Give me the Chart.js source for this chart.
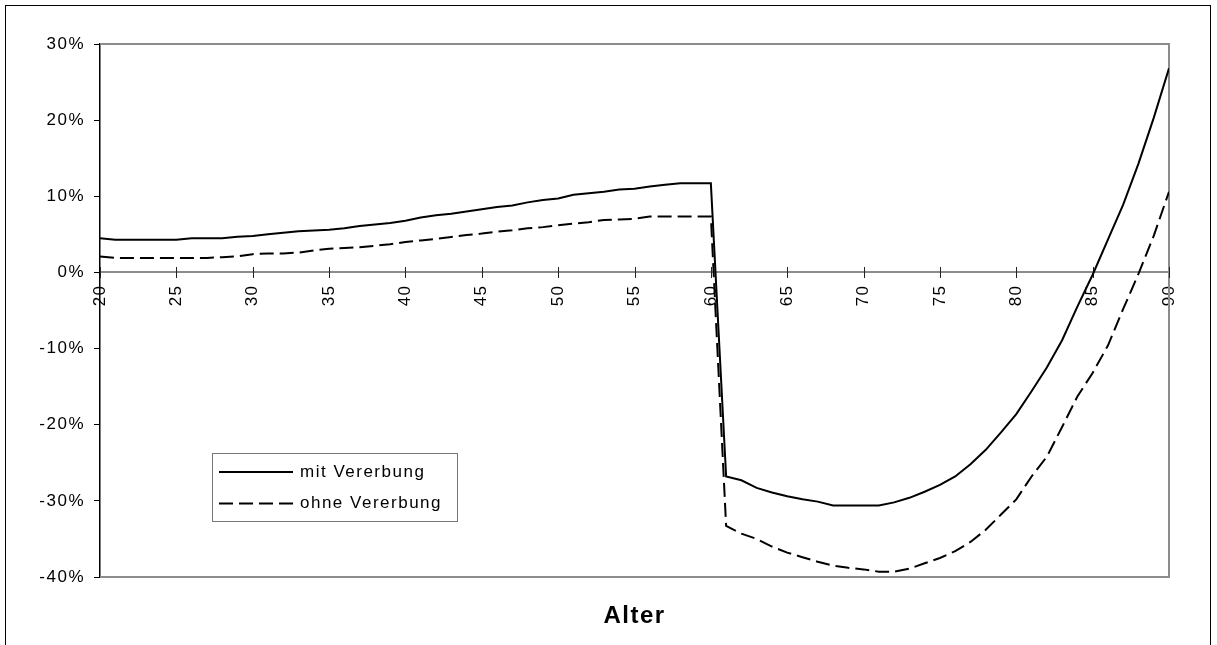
<!DOCTYPE html>
<html>
<head>
<meta charset="utf-8">
<script src="https://cdn.jsdelivr.net/npm/chart.js@4/dist/chart.umd.min.js"></script>
<style>
  html, body { margin: 0; padding: 0; background: #fff; }
  #wrap { position: relative; width: 1217px; height: 645px; }
</style>
</head>
<body>
<div id="wrap"><canvas id="c" width="1217" height="645"></canvas></div>
<script>
// ---- data ----
const ages = [20,21,22,23,24,25,26,27,28,29,30,31,32,33,34,35,36,37,38,39,40,
  41,42,43,44,45,46,47,48,49,50,51,52,53,54,55,56,57,58,59,60,
  61,62,63,64,65,66,67,68,69,70,71,72,73,74,75,76,77,78,79,80,
  81,82,83,84,85,86,87,88,89,90];

const mitVererbung = [4.5,4.3,4.3,4.3,4.3,4.3,4.5,4.5,4.5,4.7,4.8,5.0,5.2,5.4,5.5,5.6,5.8,6.1,6.3,6.5,6.8,
  7.2,7.5,7.7,8.0,8.3,8.6,8.8,9.2,9.5,9.7,10.2,10.4,10.6,10.9,11.0,11.3,11.5,11.7,11.7,11.7,
  -26.8,-27.3,-28.3,-28.9,-29.4,-29.8,-30.1,-30.6,-30.6,-30.6,-30.6,-30.2,-29.6,-28.8,-27.9,-26.8,-25.2,-23.3,-21.0,-18.6,
  -15.6,-12.5,-8.9,-4.5,-0.3,4.3,8.9,14.3,20.3,26.8];

const ohneVererbung = [2.1,1.9,1.9,1.9,1.9,1.9,1.9,1.9,2.0,2.1,2.4,2.5,2.5,2.6,2.9,3.1,3.2,3.3,3.5,3.7,4.0,
  4.2,4.4,4.65,4.9,5.1,5.35,5.55,5.8,5.95,6.2,6.4,6.6,6.9,6.95,7.05,7.35,7.35,7.35,7.35,7.35,
  -33.3,-34.3,-35.0,-36.0,-36.8,-37.4,-38.0,-38.5,-38.8,-39.0,-39.3,-39.3,-38.9,-38.2,-37.5,-36.6,-35.4,-33.8,-31.8,-29.8,
  -26.8,-24.2,-20.3,-16.3,-13.2,-9.6,-4.8,-0.2,4.8,10.6];

const seriesLabels = ['mit Vererbung', 'ohne Vererbung'];
const xTickLabelsMin = 20, xTickLabelsMax = 90, xTickStep = 5;
const yTickMin = -40, yTickMax = 30, yTickStep = 10;
const xAxisTitle = 'Alter';

const FONT = "'Liberation Sans', Arial, sans-serif";
const LS = '1.5px';

const toPoints = (vals) => ages.map((a, i) => ({ x: a, y: vals[i] }));

const spacingPlugin = {
  id: 'spacing',
  beforeUpdate(c) { c.ctx.letterSpacing = LS; },
  beforeLayout(c) { c.ctx.letterSpacing = LS; },
  beforeDraw(c) {
    c.ctx.letterSpacing = LS;
    const ctx = c.ctx;
    ctx.save();
    ctx.strokeStyle = '#000';
    ctx.lineWidth = 1;
    ctx.strokeRect(5.5, 5.5, 1205, 720);
    ctx.restore();
  }
};

const decorPlugin = {
  id: 'decor',
  beforeDatasetsDraw(c) {
    const ctx = c.ctx, a = c.chartArea;
    ctx.save();
    ctx.strokeStyle = '#8c8c8c';
    ctx.lineWidth = 2;
    ctx.beginPath();
    ctx.moveTo(a.left, a.top); ctx.lineTo(a.right, a.top);
    ctx.lineTo(a.right, a.bottom); ctx.lineTo(a.left, a.bottom);
    ctx.stroke();
    const xs = c.scales.x, ys = c.scales.y;
    const y0 = Math.round(ys.getPixelForValue(0));
    ctx.strokeStyle = '#222';
    ctx.lineWidth = 1;
    ctx.beginPath();
    xs.ticks.forEach(t => {
      const px = Math.round(xs.getPixelForValue(t.value)) + 0.5;
      ctx.moveTo(px, y0 - 5); ctx.lineTo(px, y0 + 6);
    });
    ctx.stroke();
    ctx.restore();
  },
  afterDraw(c) {
    const ctx = c.ctx;
    ctx.save();
    ctx.letterSpacing = LS;
    const lx = 212, ly = 453, lw = 245, lh = 68;
    ctx.fillStyle = '#fff';
    ctx.fillRect(lx, ly, lw, lh);
    ctx.strokeStyle = '#777';
    ctx.lineWidth = 1;
    ctx.strokeRect(lx + 0.5, ly + 0.5, lw, lh);
    c.data.datasets.forEach((ds, i) => {
      const y = 472 + i * 31.5;
      ctx.strokeStyle = ds.borderColor;
      ctx.lineWidth = ds.borderWidth;
      ctx.setLineDash(ds.borderDash || []);
      ctx.beginPath();
      ctx.moveTo(219, y); ctx.lineTo(293, y);
      ctx.stroke();
      ctx.setLineDash([]);
      ctx.fillStyle = '#000';
      ctx.font = '17px ' + FONT;
      ctx.textBaseline = 'middle';
      ctx.textAlign = 'left';
      ctx.fillText(ds.label, 300, y);
    });
    ctx.restore();
  }
};

new Chart(document.getElementById('c'), {
  type: 'line',
  data: {
    datasets: [
      { label: seriesLabels[0], data: toPoints(mitVererbung), borderColor: '#000', borderWidth: 2,
        pointRadius: 0, tension: 0, fill: false },
      { label: seriesLabels[1], data: toPoints(ohneVererbung), borderColor: '#000', borderWidth: 2,
        borderDash: [14, 6], pointRadius: 0, tension: 0, fill: false }
    ]
  },
  options: {
    responsive: false,
    animation: false,
    layout: { padding: { left: 0, right: 48, top: 44, bottom: 0 } },
    plugins: { legend: { display: false }, tooltip: { enabled: false } },
    scales: {
      x: {
        type: 'linear', position: { y: 0 },
        min: xTickLabelsMin, max: xTickLabelsMax,
        grid: { display: false },
        border: { display: true, color: '#8c8c8c', width: 2 },
        ticks: {
          stepSize: xTickStep, autoSkip: false, maxRotation: 90, minRotation: 90,
          padding: 4, color: '#000', font: { family: FONT, size: 17 }
        }
      },
      x2: {
        type: 'linear', position: 'bottom',
        min: xTickLabelsMin, max: xTickLabelsMax,
        grid: { display: false, drawTicks: false },
        border: { display: false },
        ticks: { display: false },
        title: { display: true, text: xAxisTitle, color: '#000',
          font: { family: FONT, size: 24, weight: 'bold' }, padding: { top: 0, bottom: 14 } },
        afterFit(s) { s.height = 68; }
      },
      y: {
        type: 'linear', position: 'left',
        min: yTickMin, max: yTickMax,
        grid: { drawOnChartArea: false, drawTicks: true, tickLength: 6, color: '#000' },
        border: { display: true, color: '#000', width: 1.5 },
        ticks: {
          stepSize: yTickStep, padding: 9, color: '#000',
          font: { family: FONT, size: 17 },
          callback: v => v + '%'
        },
        afterFit(s) { s.width = 100; }
      }
    }
  },
  plugins: [spacingPlugin, decorPlugin]
});
</script>
</body>
</html>
